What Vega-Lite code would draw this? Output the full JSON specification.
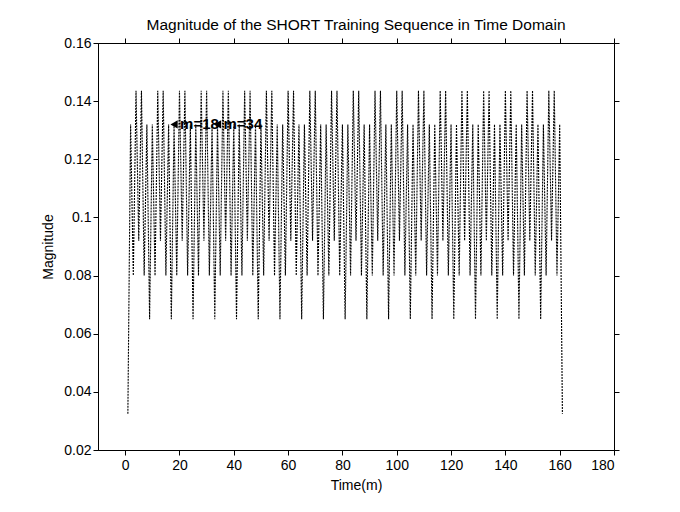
{
  "$schema": "https://vega.github.io/schema/vega-lite/v6.json",
  "width": 516,
  "height": 407,
  "autosize": {"type": "none"},
  "padding": {"left": 98, "top": 43, "right": 66, "bottom": 62},
  "background": "white",
  "title": {
    "text": "Magnitude of the SHORT Training Sequence in Time Domain",
    "font": "Liberation Sans",
    "fontSize": 15.5,
    "fontWeight": "normal",
    "color": "black",
    "offset": 3
  },
  "config": {
    "view": {"stroke": "black", "strokeWidth": 1},
    "axis": {
      "labelFont": "Liberation Sans",
      "labelFontSize": 14,
      "labelColor": "black",
      "titleFont": "Liberation Sans",
      "titleFontSize": 14,
      "titleFontWeight": "normal",
      "titleColor": "black",
      "domainColor": "black",
      "tickColor": "black",
      "grid": false
    }
  },
  "datasets": {
    "seq": [
      {"m":1,"v":0.0325},
      {"m":2,"v":0.132},{"m":3,"v":0.080},{"m":4,"v":0.1436},{"m":5,"v":0.092},{"m":6,"v":0.1436},{"m":7,"v":0.080},{"m":8,"v":0.132},{"m":9,"v":0.065},
      {"m":10,"v":0.132},{"m":11,"v":0.080},{"m":12,"v":0.1436},{"m":13,"v":0.092},{"m":14,"v":0.1436},{"m":15,"v":0.080},{"m":16,"v":0.132},{"m":17,"v":0.065},
      {"m":18,"v":0.132},{"m":19,"v":0.080},{"m":20,"v":0.1436},{"m":21,"v":0.092},{"m":22,"v":0.1436},{"m":23,"v":0.080},{"m":24,"v":0.132},{"m":25,"v":0.065},
      {"m":26,"v":0.132},{"m":27,"v":0.080},{"m":28,"v":0.1436},{"m":29,"v":0.092},{"m":30,"v":0.1436},{"m":31,"v":0.080},{"m":32,"v":0.132},{"m":33,"v":0.065},
      {"m":34,"v":0.132},{"m":35,"v":0.080},{"m":36,"v":0.1436},{"m":37,"v":0.092},{"m":38,"v":0.1436},{"m":39,"v":0.080},{"m":40,"v":0.132},{"m":41,"v":0.065},
      {"m":42,"v":0.132},{"m":43,"v":0.080},{"m":44,"v":0.1436},{"m":45,"v":0.092},{"m":46,"v":0.1436},{"m":47,"v":0.080},{"m":48,"v":0.132},{"m":49,"v":0.065},
      {"m":50,"v":0.132},{"m":51,"v":0.080},{"m":52,"v":0.1436},{"m":53,"v":0.092},{"m":54,"v":0.1436},{"m":55,"v":0.080},{"m":56,"v":0.132},{"m":57,"v":0.065},
      {"m":58,"v":0.132},{"m":59,"v":0.080},{"m":60,"v":0.1436},{"m":61,"v":0.092},{"m":62,"v":0.1436},{"m":63,"v":0.080},{"m":64,"v":0.132},{"m":65,"v":0.065},
      {"m":66,"v":0.132},{"m":67,"v":0.080},{"m":68,"v":0.1436},{"m":69,"v":0.092},{"m":70,"v":0.1436},{"m":71,"v":0.080},{"m":72,"v":0.132},{"m":73,"v":0.065},
      {"m":74,"v":0.132},{"m":75,"v":0.080},{"m":76,"v":0.1436},{"m":77,"v":0.092},{"m":78,"v":0.1436},{"m":79,"v":0.080},{"m":80,"v":0.132},{"m":81,"v":0.065},
      {"m":82,"v":0.132},{"m":83,"v":0.080},{"m":84,"v":0.1436},{"m":85,"v":0.092},{"m":86,"v":0.1436},{"m":87,"v":0.080},{"m":88,"v":0.132},{"m":89,"v":0.065},
      {"m":90,"v":0.132},{"m":91,"v":0.080},{"m":92,"v":0.1436},{"m":93,"v":0.092},{"m":94,"v":0.1436},{"m":95,"v":0.080},{"m":96,"v":0.132},{"m":97,"v":0.065},
      {"m":98,"v":0.132},{"m":99,"v":0.080},{"m":100,"v":0.1436},{"m":101,"v":0.092},{"m":102,"v":0.1436},{"m":103,"v":0.080},{"m":104,"v":0.132},{"m":105,"v":0.065},
      {"m":106,"v":0.132},{"m":107,"v":0.080},{"m":108,"v":0.1436},{"m":109,"v":0.092},{"m":110,"v":0.1436},{"m":111,"v":0.080},{"m":112,"v":0.132},{"m":113,"v":0.065},
      {"m":114,"v":0.132},{"m":115,"v":0.080},{"m":116,"v":0.1436},{"m":117,"v":0.092},{"m":118,"v":0.1436},{"m":119,"v":0.080},{"m":120,"v":0.132},{"m":121,"v":0.065},
      {"m":122,"v":0.132},{"m":123,"v":0.080},{"m":124,"v":0.1436},{"m":125,"v":0.092},{"m":126,"v":0.1436},{"m":127,"v":0.080},{"m":128,"v":0.132},{"m":129,"v":0.065},
      {"m":130,"v":0.132},{"m":131,"v":0.080},{"m":132,"v":0.1436},{"m":133,"v":0.092},{"m":134,"v":0.1436},{"m":135,"v":0.080},{"m":136,"v":0.132},{"m":137,"v":0.065},
      {"m":138,"v":0.132},{"m":139,"v":0.080},{"m":140,"v":0.1436},{"m":141,"v":0.092},{"m":142,"v":0.1436},{"m":143,"v":0.080},{"m":144,"v":0.132},{"m":145,"v":0.065},
      {"m":146,"v":0.132},{"m":147,"v":0.080},{"m":148,"v":0.1436},{"m":149,"v":0.092},{"m":150,"v":0.1436},{"m":151,"v":0.080},{"m":152,"v":0.132},{"m":153,"v":0.065},
      {"m":154,"v":0.132},{"m":155,"v":0.080},{"m":156,"v":0.1436},{"m":157,"v":0.092},{"m":158,"v":0.1436},{"m":159,"v":0.080},{"m":160,"v":0.132},
      {"m":161,"v":0.0325}
    ],
    "tips": [
      {"m":18,"v":0.132,"label":"m=18"},
      {"m":34,"v":0.132,"label":"m=34"}
    ]
  },
  "layer": [
    {
      "data": {"name": "seq"},
      "mark": {"type": "line", "color": "black", "strokeWidth": 1.1, "strokeDash": [2, 1], "interpolate": "linear"},
      "encoding": {
        "x": {"field": "m", "type": "quantitative",
              "scale": {"domain": [-10, 180], "nice": false, "zero": false},
              "axis": {"orient": "bottom", "title": "Time(m)", "values": [0,20,40,60,80,100,120,140,160,180],
                       "tickSize": 5, "labelPadding": 3, "titlePadding": 6}},
        "y": {"field": "v", "type": "quantitative",
              "scale": {"domain": [0.02, 0.16], "nice": false, "zero": false},
              "axis": {"orient": "left", "title": "Magnitude", "values": [0.02,0.04,0.06,0.08,0.1,0.12,0.14,0.16],
                       "format": ".2~f", "tickSize": 5, "labelPadding": 2, "titlePadding": 8}}
      }
    },
    {
      "data": {"name": "tips"},
      "mark": {"type": "point", "shape": "triangle-left", "filled": true, "color": "black", "size": 70, "opacity": 1},
      "encoding": {
        "x": {"field": "m", "type": "quantitative",
              "axis": {"orient": "top", "title": null, "labels": false, "values": [0,20,40,60,80,100,120,140,160,180], "tickSize": 5}},
        "y": {"field": "v", "type": "quantitative",
              "axis": {"orient": "right", "title": null, "labels": false, "values": [0.02,0.04,0.06,0.08,0.1,0.12,0.14,0.16], "tickSize": 5}}
      }
    },
    {
      "data": {"name": "tips"},
      "mark": {"type": "text", "align": "left", "baseline": "middle", "dx": 6, "font": "Liberation Sans", "fontSize": 15, "fontWeight": "bold", "color": "black"},
      "encoding": {
        "x": {"field": "m", "type": "quantitative", "axis": null},
        "y": {"field": "v", "type": "quantitative", "axis": null},
        "text": {"field": "label"}
      }
    }
  ],
  "resolve": {"axis": {"x": "independent", "y": "independent"}}
}
